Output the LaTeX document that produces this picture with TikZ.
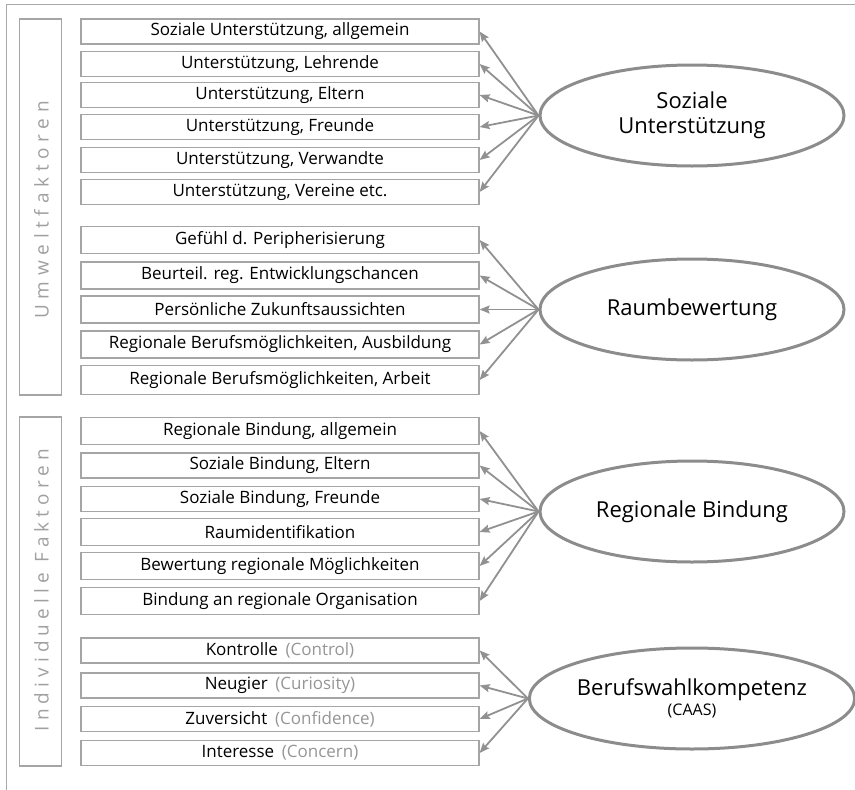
\documentclass[tikz,border=0pt]{standalone}
\usepackage{fontspec}
\setmainfont{Open Sans}
\usetikzlibrary{shapes.geometric,arrows.meta}
\definecolor{framegray}{RGB}{170,170,170}
\definecolor{boxgray}{RGB}{165,165,165}
\definecolor{arrowgray}{RGB}{145,145,145}
\definecolor{ellgray}{RGB}{140,140,140}
\definecolor{labelgray}{RGB}{160,160,160}
\definecolor{hintgray}{RGB}{150,150,150}
\newcommand{\hint}[1]{\hspace{0.45em}\textcolor{hintgray}{#1}}
\begin{document}
\begin{tikzpicture}[x=1pt,y=-1pt,
  item/.style={draw=boxgray,line width=1.2pt,fill=white,minimum width=398pt,
    minimum height=25pt,inner sep=0pt,font=\fontsize{17}{20}\selectfont},
  itemtall/.style={item,minimum height=27pt},
  factor/.style={ellipse,draw=ellgray,line width=3pt,fill=white,minimum width=304pt,
    minimum height=101pt,inner sep=0pt,align=center,font=\fontsize{22}{25.5}\selectfont},
  side/.style={draw=boxgray,line width=1.2pt,minimum width=42pt,inner sep=0pt},
  sidelabel/.style={rotate=90,text=labelgray,font=\fontsize{19}{22}\selectfont\addfontfeature{LetterSpace=30}},
  link/.style={draw=arrowgray,line width=1.8pt,-{Stealth[length=10pt,width=8pt,inset=1.5pt]}}
]
\useasboundingbox (0,0) rectangle (855,790);
% outer frame (top and left edges)
\draw[framegray,line width=1.5pt] (855,4.5) -- (6.5,4.5) -- (6.5,790);

% side group boxes
\node[side,minimum height=376pt] (g1) at (40.5,207) {};
\node[sidelabel] (g1l) at (41.5,210) {Umweltfaktoren};
\node[side,minimum height=349pt] (g2) at (40.5,591.5) {};
\node[sidelabel,font=\fontsize{19}{22}\selectfont\addfontfeature{LetterSpace=27}] (g2l) at (41.5,590) {Individuelle Faktoren};

% Soziale Unterstützung
\node[item] (a1) at (280,31.5) {Soziale Unterstützung, allgemein};
\node[item] (a2) at (280,64) {Unterstützung, Lehrende};
\node[item] (a3) at (280,95) {Unterstützung, Eltern};
\node[item] (a4) at (280,127) {Unterstützung, Freunde};
\node[item] (a5) at (280,160) {Unterstützung, Verwandte};
\node[item] (a6) at (280,192) {Unterstützung, Vereine etc.};
\node[factor] (A) at (692,115.5) {Soziale\\Unterstützung};

% Raumbewertung
\node[itemtall] (b1) at (280,240) {Gefühl d. Peripherisierung};
\node[itemtall] (b2) at (280,275.5) {Beurteil. reg. Entwicklungschancen};
\node[itemtall] (b3) at (280,309.5) {Persönliche Zukunftsaussichten};
\node[itemtall] (b4) at (280,344.5) {Regionale Berufsmöglichkeiten, Ausbildung};
\node[itemtall,minimum height=29pt] (b5) at (280,380) {Regionale Berufsmöglichkeiten, Arbeit};
\node[factor] (B) at (692,309.5) {Raumbewertung};

% Regionale Bindung
\node[itemtall] (c1) at (280,431) {Regionale Bindung, allgemein};
\node[item] (c2) at (280,465.5) {Soziale Bindung, Eltern};
\node[item] (c3) at (280,499) {Soziale Bindung, Freunde};
\node[itemtall] (c4) at (280,532) {Raumidentifikation};
\node[itemtall] (c5) at (280,566) {Bewertung regionale Möglichkeiten};
\node[itemtall] (c6) at (280,601) {Bindung an regionale Organisation};
\node[factor] (C) at (692,511.5) {Regionale Bindung};

% Berufswahlkompetenz
\node[item] (d1) at (280,650.5) {Kontrolle\hint{(Control)}};
\node[item] (d2) at (280,685.5) {Neugier\hint{(Curiosity)}};
\node[item] (d3) at (280,719) {Zuversicht\hint{(Confidence)}};
\node[item] (d4) at (280,753) {Interesse\hint{(Concern)}};
\node[factor] (D) at (692,698.5) {Berufswahlkompetenz\\[-6pt]{\fontsize{16}{18}\selectfont(CAAS)}};

% connectors
\foreach \i in {1,...,6} \draw[link] (A.west) -- (a\i.east);
\foreach \i in {1,...,5} \draw[link] (B.west) -- (b\i.east);
\foreach \i in {1,...,6} \draw[link] (C.west) -- (c\i.east);
\foreach \i in {1,...,4} \draw[link] (D.west) -- (d\i.east);
\end{tikzpicture}
\end{document}
